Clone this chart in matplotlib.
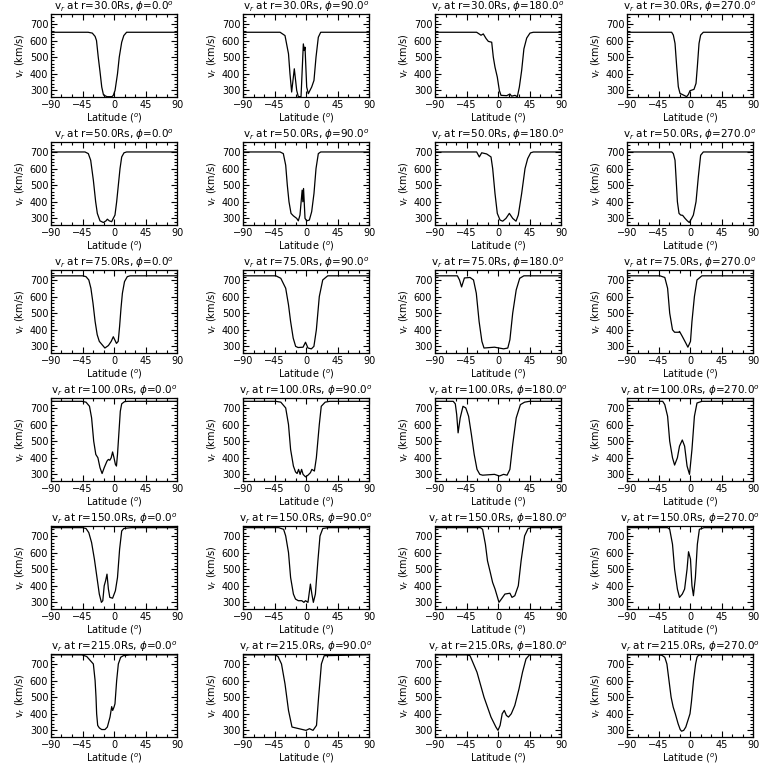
import numpy as np
import matplotlib
matplotlib.use("Agg")
import matplotlib.pyplot as plt
from matplotlib.ticker import AutoMinorLocator

# radii (Rs) and longitudes (deg) of the 6 x 4 panels
radii = [30.0, 50.0, 75.0, 100.0, 150.0, 215.0]
phis = [0.0, 90.0, 180.0, 270.0]

# r = 30 Rs
lat_30_0 = [-90, -37, -31, -27, -25, -22.5, -20, -17.5, -15, -10, -3, -1, 1.5, 5, 7.5, 11, 14, 18, 90]
vr_30_0 = [650, 650, 645, 625, 600, 500, 413, 320, 272, 262, 262, 270, 300, 400, 500, 590, 630, 650, 650]
lat_30_90 = [-90, -37, -30, -25, -22.9, -20.5, -16.7, -13.3, -11, -7.1, -3.8, -2.4, -1.4, 1, 3.3, 8.1, 11.4, 14.3, 17.6, 21, 90]
vr_30_90 = [650, 650, 630, 520, 400, 290, 430, 300, 262, 262, 580, 540, 560, 320, 280, 320, 360, 500, 620, 650, 650]
lat_30_180 = [-90, -30.5, -27, -24.3, -21, -17, -13.8, -9, -6.7, -4.3, -1, 1.9, 4.3, 12.4, 17, 19.5, 24.3, 27.6, 30.5, 33.8, 37, 41, 45.7, 50.5, 90]
vr_30_180 = [650, 650, 640, 632, 640, 612, 595, 590, 500, 440, 380, 300, 270, 268, 278, 265, 270, 262, 320, 420, 550, 615, 645, 650, 650]
lat_30_270 = [-90, -26.2, -23.8, -21.4, -19, -16.7, -14.3, -9.5, -4.8, -2.4, 0, 5.7, 8.6, 10.5, 12.9, 15.2, 19, 90]
vr_30_270 = [650, 650, 633, 583, 443, 322, 282, 272, 262, 275, 298, 306, 342, 443, 583, 633, 650, 650]

# r = 50 Rs
lat_50_0 = [-90, -41.4, -36.7, -33.3, -29.5, -26.2, -23.8, -20, -15.2, -11.4, -9.5, -6.7, -3.3, -1, 1.4, 3.8, 6.2, 8.6, 11, 14.3, 18, 90]
vr_50_0 = [700, 700, 690, 650, 530, 400, 330, 285, 275, 285, 295, 285, 280, 300, 320, 400, 500, 600, 670, 695, 700, 700]
lat_50_90 = [-90, -37, -32.4, -29, -26.7, -24.3, -21.4, -18, -13.3, -11, -8.6, -5.5, -4.5, -3.5, -1.4, 1, 4.8, 8.1, 11.4, 14.3, 17.6, 21, 90]
vr_50_90 = [700, 700, 690, 620, 500, 400, 330, 315, 300, 285, 320, 470, 400, 480, 300, 285, 290, 340, 450, 600, 690, 700, 700]
lat_50_180 = [-90, -30.5, -26.7, -23.3, -16.2, -10, -7.6, -4.3, -1, 2.9, 6.7, 11.4, 16.2, 21, 25.7, 29, 33.8, 38.6, 42.4, 46.7, 50.5, 90]
vr_50_180 = [700, 700, 670, 695, 688, 670, 600, 450, 330, 290, 283, 300, 330, 300, 283, 320, 450, 600, 660, 695, 700, 700]
lat_50_270 = [-90, -26, -23.8, -21.4, -20, -18, -15.7, -13.3, -10.5, -7.1, -3.8, -1, 2.4, 4.8, 8.6, 11.9, 15.2, 19, 90]
vr_50_270 = [700, 700, 690, 650, 550, 400, 330, 320, 318, 300, 285, 275, 300, 320, 400, 550, 680, 700, 700]

# r = 75 Rs
lat_75_0 = [-90, -45, -40, -36, -33, -30, -27, -24, -21, -13, -8, -4, -1, 3.5, 6, 8, 10, 12, 15, 19, 23, 90]
vr_75_0 = [725, 725, 720, 700, 650, 560, 450, 370, 330, 290, 305, 330, 358, 318, 330, 420, 530, 620, 690, 720, 725, 725]
lat_75_90 = [-90, -43, -36, -29, -25, -22, -18.3, -14.8, -11.3, -4.2, -0.7, 2.8, 7.7, 11.3, 14.8, 19, 23.9, 31, 90]
vr_75_90 = [725, 725, 710, 650, 550, 450, 350, 300, 293, 295, 325, 290, 285, 300, 400, 600, 700, 725, 725]
lat_75_180 = [-90, -58, -55, -52, -48, -40, -35, -31, -27, -23, -20, -5, 8, 14, 17, 21, 26, 31, 37, 45, 90]
vr_75_180 = [725, 725, 700, 658, 712, 715, 700, 620, 450, 330, 290, 295, 285, 290, 340, 500, 640, 710, 725, 725, 725]
lat_75_270 = [-90, -43, -36, -32, -29, -25, -22, -16, -15, -11, -6, -3, 0.7, 2.8, 6.3, 10, 17, 90]
vr_75_270 = [725, 725, 715, 650, 500, 400, 385, 385, 390, 360, 320, 295, 330, 450, 600, 700, 725, 725]

# r = 100 Rs
lat_100_0 = [-90, -46, -40, -35, -32, -29, -26, -23, -20, -17, -14, -10, -8, -6, -4, -2, 0, 2, 3.5, 5, 7, 9, 11, 15, 20, 90]
vr_100_0 = [740, 740, 735, 710, 640, 500, 420, 400, 340, 305, 340, 380, 390, 385, 400, 435, 400, 360, 350, 420, 550, 680, 725, 738, 740, 740]
lat_100_90 = [-90, -43, -36, -29, -25, -22, -18, -15, -12.7, -10.6, -8.4, -6.3, -4.2, -0.7, 2.8, 6.3, 8.4, 12, 14.8, 19, 21.8, 27.4, 34, 90]
vr_100_90 = [740, 740, 735, 700, 600, 450, 350, 315, 305, 330, 300, 330, 300, 285, 295, 310, 330, 320, 400, 600, 710, 735, 740, 740]
lat_100_180 = [-90, -64, -61, -59, -57, -54, -50, -46, -42, -38, -34, -30, -26, -22, -5, 2, 8, 13, 17, 21, 26, 32, 38, 45, 90]
vr_100_180 = [740, 740, 725, 660, 550, 640, 710, 700, 650, 540, 420, 330, 300, 295, 300, 290, 300, 295, 330, 480, 640, 720, 735, 740, 740]
lat_100_270 = [-90, -39, -36, -32, -29, -25, -22, -18, -15, -11, -7.7, -4.2, -0.7, 2.8, 6.3, 10, 17, 90]
vr_100_270 = [740, 740, 720, 650, 500, 400, 356, 400, 470, 507, 470, 350, 300, 450, 650, 730, 740, 740]

# r = 150 Rs
lat_150_0 = [-90, -45, -40, -36, -32, -28, -24, -21, -18, -16, -14, -12, -10, -8, -6, -2, 2, 5, 8, 11, 14, 20, 25, 90]
vr_150_0 = [750, 750, 745, 720, 660, 560, 440, 350, 300, 310, 400, 430, 470, 380, 330, 325, 370, 450, 620, 730, 745, 748, 750, 750]
lat_150_90 = [-90, -39, -32, -29, -25, -22, -18, -15, -11, -6, -3, -0.7, 2.8, 6.3, 8.4, 10.5, 13.4, 17, 20, 24, 31, 90]
vr_150_90 = [750, 750, 740, 700, 600, 450, 350, 320, 310, 310, 300, 310, 300, 410, 350, 300, 350, 550, 700, 745, 750, 750]
lat_150_180 = [-90, -25, -22, -18, -15, -11, -7.7, -4.2, -0.7, 1.4, 4.9, 9.9, 17, 20, 24, 29, 33, 38, 43, 48, 90]
vr_150_180 = [750, 750, 740, 650, 550, 480, 420, 380, 330, 300, 320, 350, 355, 330, 340, 400, 550, 700, 745, 750, 750]
lat_150_270 = [-90, -32, -29, -25, -22, -18, -15, -11, -7.7, -4.2, -2.1, 0.7, 2.8, 4.9, 7.7, 10.5, 13.4, 20, 90]
vr_150_270 = [750, 750, 740, 650, 500, 380, 330, 350, 380, 500, 605, 560, 400, 340, 450, 650, 740, 750, 750]

# r = 215 Rs
lat_215_0 = [-90, -46, -39, -29.5, -27, -25.7, -24.8, -23.3, -21, -17.6, -12.9, -9.5, -5.7, -3.3, -1.9, 0, 1.4, 3.8, 6.2, 9.5, 13.3, 23, 90]
vr_215_0 = [755, 755, 745, 700, 600, 500, 400, 330, 315, 305, 305, 320, 380, 443, 420, 440, 460, 600, 700, 740, 750, 755, 755]
lat_215_90 = [-90, -44, -40, -35, -30, -25, -20, -15, -10, -5, 0, 5, 10, 15, 18, 22, 26, 90]
vr_215_90 = [755, 755, 745, 700, 580, 420, 320, 315, 310, 305, 300, 310, 300, 330, 500, 700, 750, 755]
lat_215_180 = [-90, -45, -40, -30, -20, -10, -3, 0, 3, 6, 9, 12, 15, 19, 24, 30, 35, 40, 45, 90]
vr_215_180 = [755, 755, 750, 650, 500, 380, 320, 300, 330, 400, 420, 390, 380, 400, 450, 550, 650, 730, 755, 755]
lat_215_270 = [-90, -45, -40, -36, -33, -30, -27, -24, -21, -17, -14, -12, -9, -6, -3, 0, 2, 5, 8, 10, 12, 16, 90]
vr_215_270 = [755, 755, 752, 740, 700, 600, 500, 440, 400, 340, 305, 295, 300, 320, 360, 400, 470, 600, 700, 740, 752, 755, 755]

panels = [
    [(lat_30_0, vr_30_0), (lat_30_90, vr_30_90), (lat_30_180, vr_30_180), (lat_30_270, vr_30_270)],
    [(lat_50_0, vr_50_0), (lat_50_90, vr_50_90), (lat_50_180, vr_50_180), (lat_50_270, vr_50_270)],
    [(lat_75_0, vr_75_0), (lat_75_90, vr_75_90), (lat_75_180, vr_75_180), (lat_75_270, vr_75_270)],
    [(lat_100_0, vr_100_0), (lat_100_90, vr_100_90), (lat_100_180, vr_100_180), (lat_100_270, vr_100_270)],
    [(lat_150_0, vr_150_0), (lat_150_90, vr_150_90), (lat_150_180, vr_150_180), (lat_150_270, vr_150_270)],
    [(lat_215_0, vr_215_0), (lat_215_90, vr_215_90), (lat_215_180, vr_215_180), (lat_215_270, vr_215_270)],
]

plt.rcParams['font.family'] = ['DejaVu Sans']
plt.rcParams['mathtext.fontset'] = 'dejavusans'
plt.rcParams['font.size'] = 7

fig = plt.figure(figsize=(7.68, 7.68), dpi=100)
W, H = 768.0, 768.0

for i, r in enumerate(radii):
    for j, phi in enumerate(phis):
        # IDL-like !p.multi layout: 192 x 128 px regions
        x0 = 51 + 192 * j
        y_top = 14 + 128 * i
        ax = fig.add_axes([x0 / W, 1 - (y_top + 83) / H, 126 / W, 83 / H])
        lat, vr = panels[i][j]
        ax.plot(lat, vr, color='black', lw=0.9)
        ax.set_xlim(-90, 90)
        ax.set_ylim(260, 760)
        ax.set_xticks([-90, -45, 0, 45, 90])
        ax.set_yticks([300, 400, 500, 600, 700])
        ax.xaxis.set_minor_locator(AutoMinorLocator(3))
        ax.yaxis.set_minor_locator(AutoMinorLocator(5))
        ax.tick_params(which='both', direction='in', top=True, right=True, width=0.8, pad=2)
        ax.tick_params(which='major', length=4)
        ax.tick_params(which='minor', length=2)
        for s in ax.spines.values():
            s.set_linewidth(0.9)
        ax.set_title(r'v$_r$ at r=%.1fRs, $\phi$=%.1f$^o$' % (r, phi), fontsize=7.5, pad=2)
        ax.set_xlabel(r'Latitude ($^o$)', labelpad=1)
        ax.set_ylabel(r'v$_r$ (km/s)', labelpad=2)

plt.savefig('out.png', dpi=100)
